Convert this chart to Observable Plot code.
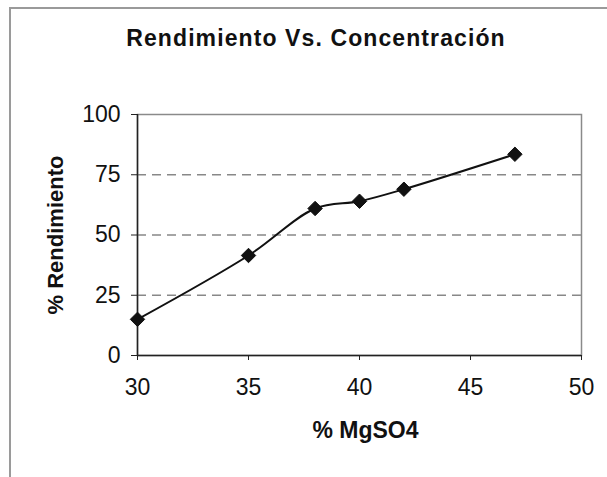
<!DOCTYPE html>
<html>
<head>
<meta charset="utf-8">
<script src="https://cdn.jsdelivr.net/npm/d3@7"></script>
<script src="https://cdn.jsdelivr.net/npm/@observablehq/plot@0.6"></script>
<style>
  html, body { margin: 0; padding: 0; background: #fff; }
  #wrap { position: relative; width: 607px; height: 477px; overflow: hidden; font-family: "Liberation Sans", Arial, sans-serif; }
  #border { position: absolute; left: 9px; top: 7px; width: 620px; height: 500px; border-left: 2px solid #9a9a9a; border-top: 2px solid #9a9a9a; box-sizing: border-box; }
  #title { position: absolute; left: 0; width: 632px; top: 25px; text-align: center; font-weight: bold; font-size: 23px; letter-spacing: 1.1px; color: #111; white-space: nowrap; }
  #chart { position: absolute; left: 0; top: 0; }
</style>
</head>
<body>
<div id="wrap">
  <div id="border"></div>
  <div id="title">Rendimiento Vs. Concentración</div>
  <div id="chart"></div>
</div>
<script>
const concentration = [30, 35, 38, 40, 42, 47];
const yieldPct = [15, 41.5, 61, 64, 69, 83.5];
const xTicks = [30, 35, 40, 45, 50];
const yTicks = [0, 25, 50, 75, 100];
const gridValues = [25, 50, 75];
const xLabel = "% MgSO4";
const yLabel = "% Rendimiento";

const data = concentration.map((c, i) => ({x: c, y: yieldPct[i]}));

const chart = Plot.plot({
  width: 607,
  height: 477,
  marginTop: 114,
  marginLeft: 137,
  marginRight: 26,
  marginBottom: 122,
  style: {fontFamily: "'Liberation Sans', Arial, sans-serif", fontSize: "23px", color: "#111", background: "transparent"},
  x: {domain: [30, 50], ticks: xTicks, label: null},
  y: {domain: [0, 100], ticks: yTicks, label: null},
  marks: [
    Plot.frame({stroke: "#8a8a8a", strokeWidth: 1.5}),
    Plot.ruleY(gridValues, {stroke: "#888", strokeDasharray: "9,6", strokeWidth: 1.3}),
    Plot.axisX({ticks: xTicks, tickSize: 5, tickPadding: 18, fontSize: 23, label: null, stroke: "#222"}),
    Plot.axisY({ticks: yTicks, tickSize: 6, tickPadding: 11, fontSize: 23, label: null, stroke: "#222"}),
    Plot.ruleX([30], {stroke: "#222", strokeWidth: 1.5}),
    Plot.ruleY([0], {stroke: "#222", strokeWidth: 1.5}),
    Plot.line(data, {x: "x", y: "y", curve: "catmull-rom", stroke: "#111", strokeWidth: 2}),
    Plot.dot(data, {x: "x", y: "y", symbol: "diamond2", r: 6.5, fill: "#111", stroke: "#111", strokeWidth: 1}),
    Plot.text([xLabel], {frameAnchor: "bottom", dx: 6, dy: 82, fontWeight: "bold", fontSize: 23, fill: "#111", letterSpacing: "2.2px"}),
    Plot.text([yLabel], {frameAnchor: "left", dx: -82, rotate: -90, textAnchor: "middle", fontWeight: "bold", fontSize: 22, fill: "#111", letterSpacing: "0.8px"})
  ]
});
document.getElementById("chart").appendChild(chart);
</script>
</body>
</html>
